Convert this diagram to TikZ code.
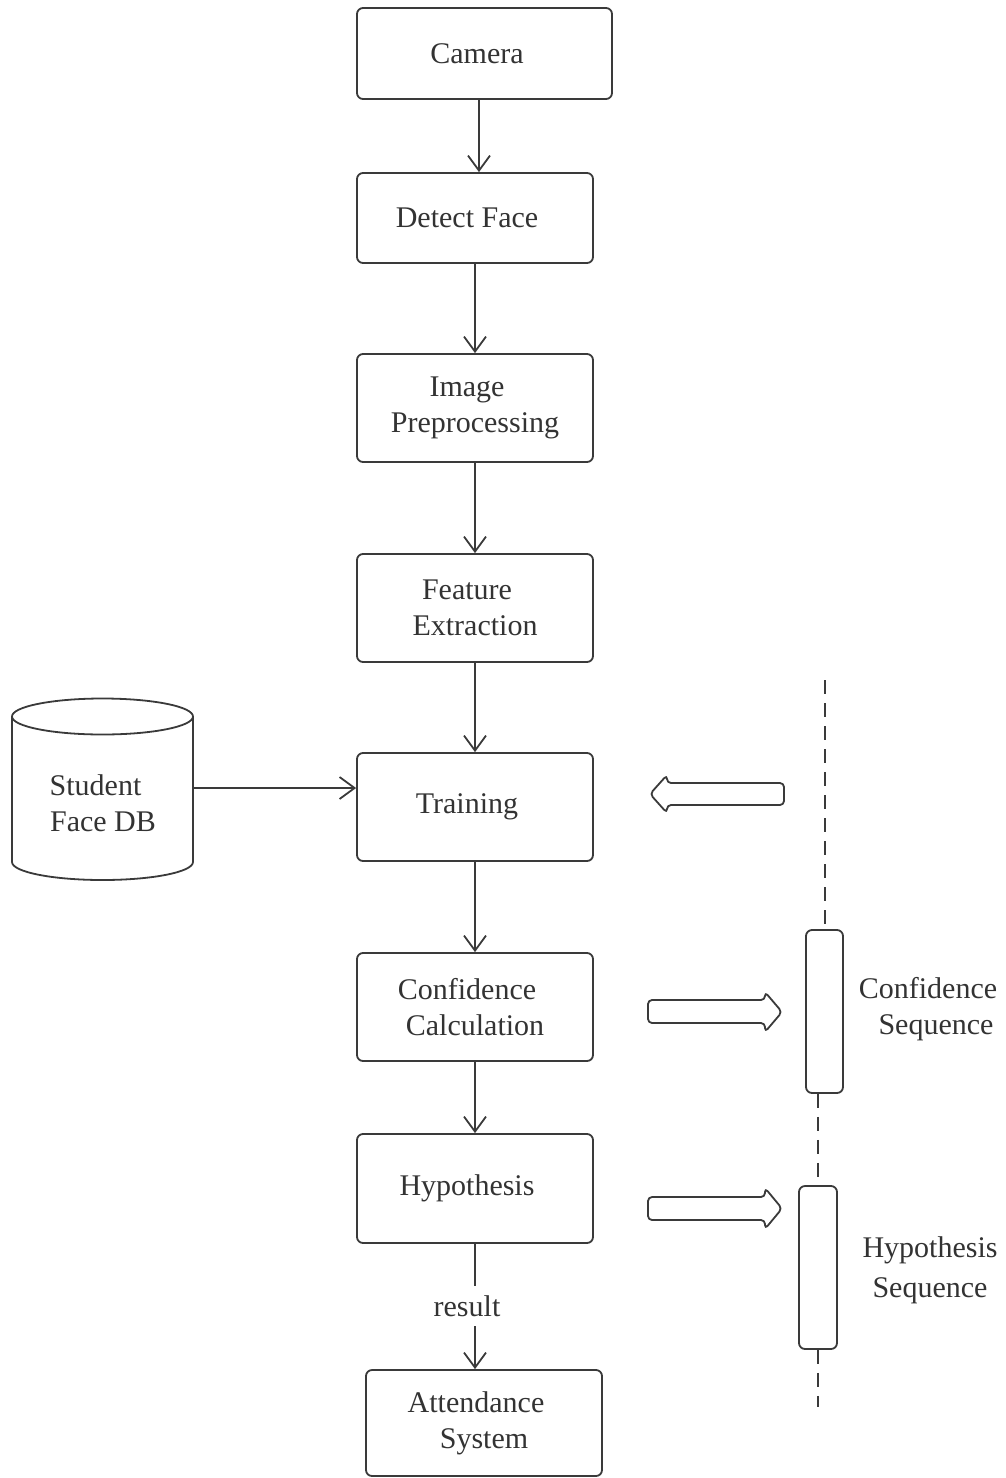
\documentclass[tikz,border=0pt]{standalone}
\usepackage{fontspec}
\setmainfont{Liberation Serif}
\usetikzlibrary{arrows.meta}
\definecolor{ln}{HTML}{3A3A3A}
\definecolor{tx}{HTML}{333333}
\begin{document}
\begin{tikzpicture}[x=1pt,y=-1pt,
  every node/.style={text=tx,font=\fontsize{30}{36}\selectfont},
  box/.style={draw=ln,line width=1.8pt,rounded corners=6pt,align=center,inner sep=0pt},
  arr/.style={draw=ln,line width=1.8pt,-{Straight Barb[length=15pt,width=22pt,line width=1.8pt]}},
  blk/.style={draw=ln,line width=1.8pt,rounded corners=4pt,line join=round},
  life/.style={draw=ln,line width=2pt,dash pattern=on 14pt off 9pt},
  lbox/.style={draw=ln,line width=1.8pt,rounded corners=6pt,inner sep=0pt}]
\useasboundingbox (0,0) rectangle (1005,1478);

% main flow boxes
\node[box,minimum width=255pt,minimum height=91pt] (cam) at (484.5,53.5) {Camera\hspace*{15pt}};
\node[box,minimum width=236pt,minimum height=90pt] (det) at (475,218) {Detect Face\hspace*{16pt}};
\node[box,minimum width=236pt,minimum height=108pt] (img) at (475,408) {Image\hspace*{16pt}\\Preprocessing};
\node[box,minimum width=236pt,minimum height=108pt] (feat) at (475,608) {Feature\hspace*{16pt}\\Extraction};
\node[box,minimum width=236pt,minimum height=108pt] (train) at (475,807) {Training\hspace*{16pt}};
\node[box,minimum width=236pt,minimum height=108pt] (conf) at (475,1007) {Confidence\hspace*{16pt}\\Calculation};
\node[box,minimum width=236pt,minimum height=109pt] (hyp) at (475,1188.5) {Hypothesis\hspace*{16pt}};
\node[box,minimum width=236pt,minimum height=106pt] (att) at (484,1423) {Attendance\hspace*{16pt}\\System};

% connectors
\draw[arr] ([xshift=-5.5pt]cam.south) -- ([xshift=4pt]det.north);
\draw[arr] (det.south) -- (img.north);
\draw[arr] (img.south) -- (feat.north);
\draw[arr] (feat.south) -- (train.north);
\draw[arr] (train.south) -- (conf.north);
\draw[arr] (conf.south) -- (hyp.north);
\draw[arr] (hyp.south) -- (hyp.south |- att.north);
\node[fill=white,inner sep=3pt,minimum height=40pt] (res) at (475,1306) {\hspace*{-16pt}result};

% database cylinder
\draw[draw=ln,line width=1.8pt] (102.5,716.5) ellipse [x radius=90.5pt, y radius=18pt];
\draw[draw=ln,line width=1.8pt] (12,716.5) -- (12,862)
  arc[start angle=180,end angle=360,x radius=90.5pt,y radius=18pt] -- (193,716.5);
\node[align=center] (db) at (103,803) {Student\hspace*{15pt}\\Face DB};
\coordinate (dbE) at (193,788);
\draw[arr] (dbE) -- (train.west |- dbE);

% block arrows
\draw[blk] (650,794) -- (667,775) -- (667,783) -- (784,783) -- (784,805) -- (667,805) -- (667,813) -- cycle;
\draw[blk] (648,1000) -- (765,1000) -- (765,992) -- (782,1012) -- (765,1032) -- (765,1023) -- (648,1023) -- cycle;
\draw[blk] (648,1197) -- (765,1197) -- (765,1188) -- (782,1208.5) -- (765,1229) -- (765,1220) -- (648,1220) -- cycle;

% lifeline
\node[lbox,minimum width=37pt,minimum height=163pt] (lb1) at (824.5,1011.5) {};
\node[lbox,minimum width=38pt,minimum height=163pt] (lb2) at (818,1267.5) {};
\coordinate (ltop) at (824.5,680);
\coordinate (lbot) at (818,1407);
\draw[life] (ltop) -- (lb1.north);
\draw[life] (lb2.north |- lb1.south) -- (lb2.north);
\draw[life] (lb2.south) -- (lbot);

% side labels
\node[align=center] (cseq) at (936,1009) {Confidence\hspace*{16pt}\\Sequence};
\node[align=center,font=\fontsize{30}{40}\selectfont] (hseq) at (930,1270) {Hypothesis\\Sequence};
\end{tikzpicture}
\end{document}
